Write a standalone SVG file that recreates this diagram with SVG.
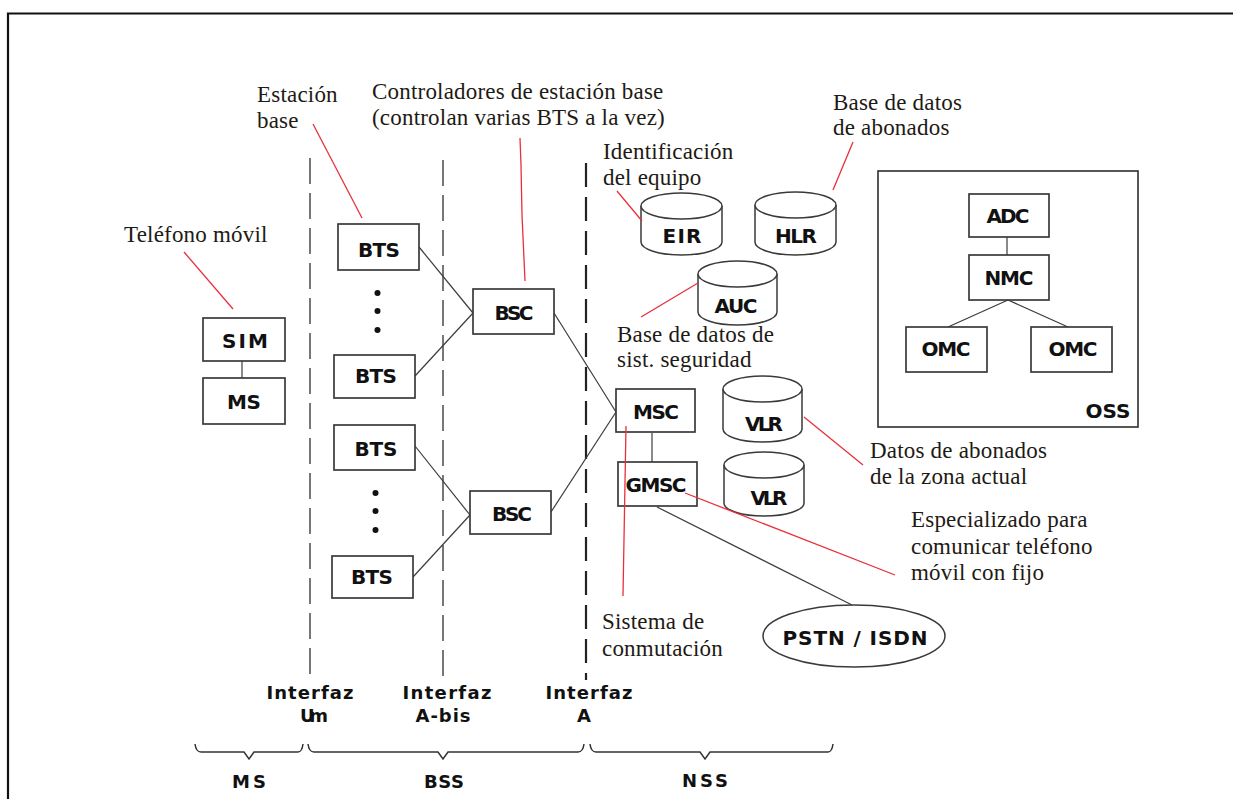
<svg xmlns="http://www.w3.org/2000/svg" width="1233" height="799" viewBox="0 0 1233 799">
  <style>
    .box { fill: #fff; stroke: #3a3a3a; stroke-width: 1.7; }
    .frame { fill: none; stroke: #3a3a3a; stroke-width: 1.7; }
    .cyl { fill: #fff; stroke: #3a3a3a; stroke-width: 1.5; }
    .lbl { font-family: "DejaVu Sans", "Liberation Sans", sans-serif; font-weight: bold; font-size: 20px; fill: #111; text-anchor: middle; }
    .note { font-family: "Liberation Serif", "Times New Roman", serif; font-size: 23px; letter-spacing: 0.2px; fill: #1e1a14; }
    .iface { font-family: "DejaVu Sans", "Liberation Sans", sans-serif; font-weight: bold; font-size: 18px; fill: #111; text-anchor: middle; }
    .link { stroke: #3c3c3c; stroke-width: 1.2; fill: none; }
    .callout { stroke: #e8303a; stroke-width: 1.3; fill: none; }
    .sep { stroke: #555; stroke-width: 1.6; fill: none; stroke-dasharray: 26 9; }
    .sepA { stroke: #222; stroke-width: 2.2; fill: none; stroke-dasharray: 24 10; }
    .brace { stroke: #333; stroke-width: 1.5; fill: none; }
  </style>

  <!-- outer frame (continues past the right and bottom edges) -->
  <path d="M8,799 V13.5 H1233" fill="none" stroke="#111" stroke-width="2.2"/>

  <!-- interface separators -->
  <g id="separators">
    <line class="sep" x1="310" y1="158" x2="310" y2="674"/>
    <line class="sep" x1="443" y1="160" x2="443" y2="676"/>
    <line class="sepA" x1="586" y1="163" x2="586" y2="680"/>
  </g>

  <!-- operation and support subsystem container -->
  <g id="oss">
    <rect class="frame" x="878" y="171" width="260" height="256"/>
    <text class="lbl" x="1108" y="418" textLength="45">OSS</text>
  </g>

  <!-- connectors -->
  <g id="connectors">
    <line class="link" x1="242" y1="361" x2="242" y2="378"/>
    <line class="link" x1="419" y1="247" x2="473" y2="313"/>
    <line class="link" x1="415" y1="376" x2="473" y2="313"/>
    <line class="link" x1="415" y1="446" x2="470" y2="515"/>
    <line class="link" x1="413" y1="577" x2="470" y2="515"/>
    <line class="link" x1="554" y1="313" x2="616" y2="412"/>
    <line class="link" x1="551" y1="512" x2="616" y2="412"/>
    <line class="link" x1="652" y1="433" x2="652" y2="462" stroke="#777"/>
    <line class="link" x1="657" y1="507" x2="852" y2="605"/>
    <line class="link" x1="1007" y1="237" x2="1007" y2="255"/>
    <line class="link" x1="1008" y1="300" x2="948" y2="327"/>
    <line class="link" x1="1008" y1="300" x2="1068" y2="327"/>
  </g>

  <!-- mobile station -->
  <g id="sim">
    <rect class="box" x="203" y="318" width="82" height="43"/>
    <text class="lbl" x="245" y="348" textLength="46">SIM</text>
  </g>
  <g id="ms">
    <rect class="box" x="203" y="378" width="82" height="46"/>
    <text class="lbl" x="244" y="409" textLength="34">MS</text>
  </g>

  <!-- base transceiver stations -->
  <g id="bts1">
    <rect class="box" x="338" y="224" width="81" height="46"/>
    <text class="lbl" x="379" y="257" textLength="42">BTS</text>
  </g>
  <g id="bts2">
    <rect class="box" x="334" y="355" width="81" height="43"/>
    <text class="lbl" x="376" y="383" textLength="42">BTS</text>
  </g>
  <g id="bts3">
    <rect class="box" x="334" y="425" width="81" height="45"/>
    <text class="lbl" x="376" y="456" textLength="43">BTS</text>
  </g>
  <g id="bts4">
    <rect class="box" x="332" y="556" width="81" height="42"/>
    <text class="lbl" x="372" y="584" textLength="42">BTS</text>
  </g>
  <g id="bts-dots" fill="#111">
    <circle cx="377.5" cy="293" r="3"/>
    <circle cx="377.5" cy="311" r="3"/>
    <circle cx="377.5" cy="330" r="3"/>
    <circle cx="375.5" cy="493" r="3"/>
    <circle cx="375.5" cy="511" r="3"/>
    <circle cx="375.5" cy="530" r="3"/>
  </g>

  <!-- base station controllers -->
  <g id="bsc1">
    <rect class="box" x="473" y="289" width="81" height="45"/>
    <text class="lbl" x="514" y="320" textLength="39">BSC</text>
  </g>
  <g id="bsc2">
    <rect class="box" x="470" y="491" width="81" height="43"/>
    <text class="lbl" x="512" y="521" textLength="40">BSC</text>
  </g>

  <!-- switching -->
  <g id="msc">
    <rect class="box" x="616" y="389" width="79" height="43"/>
    <text class="lbl" x="656" y="419" textLength="46">MSC</text>
  </g>
  <g id="gmsc">
    <rect class="box" x="618" y="462" width="79" height="44"/>
    <text class="lbl" x="656" y="492" textLength="61">GMSC</text>
  </g>
  <g id="pstn">
    <ellipse class="cyl" cx="854" cy="636" rx="91" ry="31"/>
    <text class="lbl" x="855" y="645" textLength="145">PSTN / ISDN</text>
  </g>

  <!-- databases -->
  <g id="eir">
    <path class="cyl" d="M641,206 V242 A40.5,13 0 0 0 722,242 V206"/>
    <ellipse class="cyl" cx="681.5" cy="206" rx="40.5" ry="13"/>
    <text class="lbl" x="682" y="243" textLength="39">EIR</text>
  </g>
  <g id="hlr">
    <path class="cyl" d="M755,205 V242 A40.5,13 0 0 0 836,242 V205"/>
    <ellipse class="cyl" cx="795.5" cy="205" rx="40.5" ry="13"/>
    <text class="lbl" x="796" y="243" textLength="42">HLR</text>
  </g>
  <g id="auc">
    <path class="cyl" d="M698,274 V312 A39.5,13 0 0 0 777,312 V274"/>
    <ellipse class="cyl" cx="737.5" cy="274" rx="39.5" ry="13"/>
    <text class="lbl" x="736" y="313" textLength="43">AUC</text>
  </g>
  <g id="vlr1">
    <path class="cyl" d="M723,389 V429 A39.5,13 0 0 0 802,429 V389"/>
    <ellipse class="cyl" cx="762.5" cy="389" rx="39.5" ry="13"/>
    <text class="lbl" x="764" y="431" textLength="38">VLR</text>
  </g>
  <g id="vlr2">
    <path class="cyl" d="M724,465 V503 A40,13 0 0 0 804,503 V465"/>
    <ellipse class="cyl" cx="764" cy="465" rx="40" ry="13"/>
    <text class="lbl" x="769" y="505" textLength="37">VLR</text>
  </g>

  <!-- management centres inside OSS -->
  <g id="adc">
    <rect class="box" x="969" y="194" width="80" height="43"/>
    <text class="lbl" x="1008" y="223" textLength="43">ADC</text>
  </g>
  <g id="nmc">
    <rect class="box" x="969" y="255" width="80" height="45"/>
    <text class="lbl" x="1009" y="285" textLength="49">NMC</text>
  </g>
  <g id="omc1">
    <rect class="box" x="906" y="327" width="81" height="45"/>
    <text class="lbl" x="946" y="356" textLength="49">OMC</text>
  </g>
  <g id="omc2">
    <rect class="box" x="1031" y="327" width="81" height="45"/>
    <text class="lbl" x="1073" y="356" textLength="49">OMC</text>
  </g>

  <!-- callouts -->
  <g id="callouts">
    <line class="callout" x1="313" y1="124" x2="362" y2="218"/>
    <line class="callout" x1="184" y1="252" x2="233" y2="309"/>
    <polyline class="callout" points="520,138 521,165 522,215 525,281"/>
    <line class="callout" x1="617" y1="191" x2="642" y2="221"/>
    <line class="callout" x1="698" y1="283" x2="641" y2="317"/>
    <line class="callout" x1="853" y1="142" x2="833" y2="190"/>
    <line class="callout" x1="804" y1="417" x2="863" y2="465"/>
    <line class="callout" x1="685" y1="493" x2="895" y2="575"/>
    <line class="callout" x1="626" y1="426" x2="623" y2="596"/>

    <text class="note" x="257" y="102">Estación</text>
    <text class="note" x="257" y="128">base</text>
    <text class="note" x="372" y="99">Controladores de estación base</text>
    <text class="note" x="372" y="125">(controlan varias BTS a la vez)</text>
    <text class="note" x="603" y="159">Identificación</text>
    <text class="note" x="603" y="185">del equipo</text>
    <text class="note" x="833" y="110">Base de datos</text>
    <text class="note" x="833" y="135">de abonados</text>
    <text class="note" x="124" y="242">Teléfono móvil</text>
    <text class="note" x="617" y="342">Base de datos de</text>
    <text class="note" x="617" y="367">sist. seguridad</text>
    <text class="note" x="870" y="458">Datos de abonados</text>
    <text class="note" x="870" y="484">de la zona actual</text>
    <text class="note" x="911" y="527">Especializado para</text>
    <text class="note" x="911" y="554">comunicar teléfono</text>
    <text class="note" x="911" y="580">móvil con fijo</text>
    <text class="note" x="602" y="629">Sistema de</text>
    <text class="note" x="602" y="656">conmutación</text>
  </g>

  <!-- interface names -->
  <g id="interfaces">
    <text class="iface" x="310" y="699" textLength="87">Interfaz</text>
    <text class="iface" x="314" y="722" textLength="28">Um</text>
    <text class="iface" x="447" y="699" textLength="89">Interfaz</text>
    <text class="iface" x="443" y="722" textLength="55">A-bis</text>
    <text class="iface" x="589" y="699" textLength="87">Interfaz</text>
    <text class="iface" x="584" y="722">A</text>
  </g>

  <!-- subsystem braces -->
  <g id="braces">
    <path class="brace" d="M195,744 Q196,752 201,752 H244 L249,759 L254,752 H298 Q302,752 303,744"/>
    <path class="brace" d="M308,744 Q309,752 314,752 H438 L443,759 L448,752 H578 Q583,752 584,744"/>
    <path class="brace" d="M590,744 Q591,752 596,752 H700 L705,759 L710,752 H828 Q832,752 833,744"/>
    <text class="iface" x="249" y="788" textLength="34">MS</text>
    <text class="iface" x="444" y="788" textLength="40">BSS</text>
    <text class="iface" x="705" y="787" textLength="46">NSS</text>
  </g>
</svg>
